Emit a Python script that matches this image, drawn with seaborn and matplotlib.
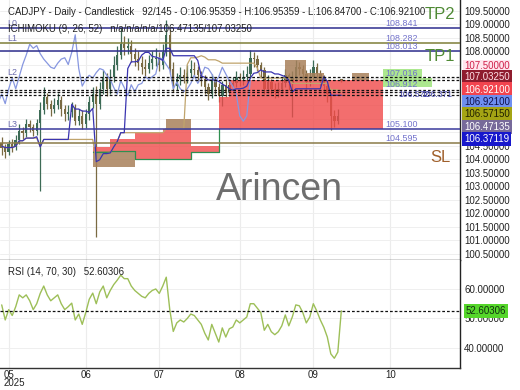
import numpy as np
import pandas as pd
import matplotlib
matplotlib.use("Agg")
import matplotlib.pyplot as plt
import matplotlib.transforms as mtransforms
import seaborn as sns

# ---------------- data ----------------
header_text = "CADJPY - Daily - Candlestick   92/145 - O:106.95359 - H:106.95359 - L:106.84700 - C:106.92100"
ichimoku_text = "ICHIMOKU (9, 26, 52)   n/a/n/a/n/a/106.47135/107.03250"
rsi_text = "RSI (14, 70, 30)   52.60306"
start_date = "2025-04-29"
month_labels = ["05", "06", "07", "08", "09", "10"]
year_label = "2025"

opens = [104.60, 104.40, 104.25, 104.55, 104.45, 104.70, 105.05, 104.95, 105.30, 105.20,
         105.05, 105.35, 105.80, 106.30, 106.05, 105.85, 106.00, 106.20, 105.85, 105.65,
         105.75, 105.90, 105.40, 105.60, 105.30, 105.65, 106.10, 106.40, 106.05, 106.60,
         107.00, 106.60, 107.05, 107.50, 107.85, 108.25, 108.10, 108.20, 107.90, 107.70,
         107.55, 107.40, 107.35, 107.55, 107.70, 107.75, 107.50, 107.95, 108.60, 107.35,
         106.70, 106.95, 107.10, 107.00, 107.20, 107.35, 107.30, 107.10, 106.95, 106.65,
         106.40, 106.90, 106.65, 106.35, 106.75, 106.50, 106.75, 106.80, 107.05, 106.95,
         107.05, 107.15, 107.75, 107.70, 107.50, 107.30, 106.60, 106.85, 106.60, 106.50,
         106.60, 106.80, 107.10, 106.80, 107.05, 107.40, 107.35, 107.15, 106.85, 107.05,
         107.40, 107.15, 106.90, 106.70, 106.40, 105.60, 105.40, 106.95]
closes = [104.40, 104.25, 104.55, 104.45, 104.70, 105.05, 104.95, 105.30, 105.20, 105.05,
          105.35, 105.80, 106.30, 106.05, 105.85, 106.00, 106.20, 105.85, 105.65, 105.75,
          105.90, 105.40, 105.60, 105.30, 105.65, 106.10, 106.40, 106.05, 106.60, 107.00,
          106.60, 107.05, 107.50, 107.85, 108.25, 108.10, 108.20, 107.90, 107.70, 107.55,
          107.40, 107.35, 107.55, 107.70, 107.75, 107.50, 107.95, 108.60, 107.35, 106.70,
          106.95, 107.10, 107.00, 107.20, 107.35, 107.30, 107.10, 106.95, 106.65, 106.40,
          106.90, 106.65, 106.35, 106.75, 106.50, 106.75, 106.80, 107.05, 106.95, 107.05,
          107.15, 107.75, 107.70, 107.50, 107.30, 106.60, 106.85, 106.60, 106.50, 106.60,
          106.80, 107.10, 106.80, 107.05, 107.40, 107.35, 107.15, 106.85, 107.05, 107.40,
          107.15, 106.90, 106.70, 106.40, 105.60, 105.40, 105.60, 106.92]
highs = [104.80, 104.55, 104.70, 104.75, 104.90, 105.30, 105.20, 105.50, 105.45, 105.30,
         105.50, 106.10, 106.65, 106.45, 106.20, 106.25, 106.45, 106.35, 106.00, 106.00,
         106.10, 106.05, 105.85, 105.80, 105.85, 106.35, 106.65, 106.70, 106.85, 107.30,
         107.20, 107.35, 107.80, 108.20, 108.85, 108.55, 108.50, 108.40, 108.10, 108.00,
         107.80, 107.70, 107.85, 108.00, 108.10, 107.95, 108.25, 109.15, 108.80, 107.60,
         107.20, 107.40, 107.35, 107.50, 107.65, 107.60, 107.45, 107.25, 107.10, 106.80,
         107.15, 107.05, 106.80, 106.90, 106.95, 106.95, 107.05, 107.25, 107.20, 107.30,
         107.45, 108.05, 107.95, 107.85, 107.60, 107.40, 107.10, 106.95, 106.80, 106.85,
         107.05, 107.35, 107.20, 107.25, 107.65, 107.60, 107.50, 107.30, 107.35, 107.65,
         107.55, 107.30, 107.10, 106.85, 106.50, 105.80, 105.85, 106.95]
lows = [104.15, 104.05, 104.15, 104.25, 104.35, 104.55, 104.75, 104.80, 105.00, 104.85,
        104.90, 102.80, 105.65, 105.85, 105.60, 105.70, 105.85, 105.60, 105.40, 105.45,
        105.55, 105.25, 105.25, 105.10, 105.15, 105.45, 105.90, 101.10, 105.85, 106.40,
        106.35, 106.40, 106.85, 107.30, 107.70, 107.85, 107.90, 107.60, 107.45, 107.30,
        107.15, 107.05, 107.20, 107.35, 107.45, 107.25, 107.35, 107.80, 107.15, 106.50,
        106.55, 106.75, 106.80, 106.80, 107.05, 107.05, 106.85, 106.70, 106.40, 106.20,
        106.25, 106.40, 106.10, 105.95, 106.30, 106.35, 106.55, 106.65, 106.70, 106.75,
        106.85, 107.00, 107.40, 107.25, 107.05, 106.40, 106.45, 106.40, 106.25, 106.30,
        106.45, 106.65, 106.55, 105.55, 106.90, 107.10, 106.95, 106.60, 106.70, 106.90,
        106.95, 106.70, 106.45, 106.10, 105.07, 105.20, 105.30, 106.85]
rsi_values = [54.6, 49.5, 53.0, 51.0, 54.0, 58.0, 57.0, 58.0, 56.0, 53.0,
              55.0, 58.5, 61.0, 58.0, 56.0, 57.0, 58.0, 55.0, 53.0, 54.0,
              55.2, 49.5, 51.5, 48.0, 52.0, 56.5, 58.6, 55.0, 59.0, 61.0,
              57.0, 59.5, 61.5, 63.0, 64.7, 63.5, 63.5, 61.0, 59.5, 58.5,
              57.5, 57.0, 58.5, 59.5, 60.0, 58.5, 61.0, 64.0, 53.0, 45.6,
              48.5, 49.5, 48.8, 50.0, 51.5, 51.0, 49.5, 48.0, 45.0, 42.7,
              48.0, 45.0, 42.0, 46.8, 43.7, 46.5, 47.1, 49.5, 48.5, 49.5,
              50.5, 55.0, 55.0, 53.5, 52.0, 46.0, 48.0, 45.5, 44.5, 45.5,
              47.5, 51.2, 47.5, 50.5, 54.6, 54.3, 52.0, 48.5, 50.5, 55.0,
              52.5, 49.5, 47.0, 43.7, 38.0, 36.5, 38.6, 52.6]

# Ichimoku cloud (bar index, lower, upper)
red_idx = [26, 31, 38, 46, 54, 62, 65, 109]
red_lo = [104.25, 104.30, 104.00, 104.00, 104.25, 105.10, 105.10, 105.10]
red_hi = [104.45, 104.75, 104.95, 105.10, 104.50, 106.30, 106.93, 106.93]
brown_start = [26, 47, 81, 87, 100]
brown_end = [38, 54, 87, 92, 105]
brown_lo = [103.70, 105.07, 106.93, 106.93, 106.93]
brown_hi = [104.30, 105.50, 107.65, 107.20, 107.20]
green_idx = [109, 120, 123]
green_lo = [106.65, 106.65, 106.65]
green_hi = [107.35, 107.00, 107.00]

level_values = [108.841, 108.282, 108.013, 105.100, 104.595]
level_texts = ["108.841", "108.282", "108.013", "105.100", "104.595"]
cloud_values = [107.016, 106.912]
cloud_texts = ["107.016", "106.912"]
small_values = [106.5715, 106.37119]
small_texts = ["106.572", "106.371"]
side_tags = ["L0", "L1", "L2", "L3"]
side_tag_values = [108.841, 108.282, 107.0325, 105.100]
target_tags = ["TP2", "TP1", "SL"]
target_values = [109.37, 107.78, 104.07]
dashed_levels = [107.03250, 106.92100, 106.57150, 106.47135, 106.37119]
badge_texts = ["107.03250", "106.92100", "106.92100", "106.57150", "106.47135", "106.37119"]
rsi_last = 52.60306
rsi_last_text = "52.60306"
watermark = "Arincen"

# ---------------- styles ----------------
badge_bg = ["#8e1c2e", "#f2444f", "#6f8ff0", "#a4a414", "#776a9a", "#1717cc"]
badge_fg = ["#ffe0e6", "#ffffff", "#10104a", "#202000", "#ffffff", "#ffffff"]
level_colors = ["#2e2e8e", "#7f7f38", "#2e2e8e", "#3a3a9c", "#8a7a48"]
target_colors = ["#4f8a35", "#4f8a35", "#a0602c"]

sns.set_theme(style="white")
plt.rcParams["font.family"] = ["Liberation Sans", "DejaVu Sans"]

W, H = 520, 390
fig = plt.figure(figsize=(5.2, 3.9), dpi=100)
ax1 = fig.add_axes([0, 1 - 260 / H, 460 / W, 260 / H])
ax2 = fig.add_axes([0, 1 - 368 / H, 460 / W, 108 / H])

n = len(closes)
df = pd.DataFrame({"open": opens, "high": highs, "low": lows, "close": closes,
                   "rsi": rsi_values})
df["idx"] = np.arange(n)

# Ichimoku lines (9, 26)
tenkan = (df["high"].rolling(9, min_periods=1).max() + df["low"].rolling(9, min_periods=1).min()) / 2
kijun = (df["high"].rolling(26, min_periods=1).max() + df["low"].rolling(26, min_periods=1).min()) / 2
shift = 26

# x ticks (first trading day of each month)
dates = pd.bdate_range(start_date, periods=n + 60)
month_pos = [i for i in range(1, len(dates)) if dates[i].month != dates[i - 1].month][:len(month_labels)]

for ax in (ax1, ax2):
    ax.set_xticks(month_pos)
    ax.grid(True, axis="x", color="#ececec", lw=0.8, zorder=0)
    ax.grid(True, axis="y", color="#efefef", lw=0.7, zorder=0)
    for s in ("left", "top"):
        ax.spines[s].set_visible(False)
    ax.spines["right"].set_color("#222222")
    ax.spines["bottom"].set_color("#333333")
    ax.spines["right"].set_linewidth(1)
    ax.spines["bottom"].set_linewidth(1)
    ax.yaxis.tick_right()
    ax.tick_params(axis="y", length=0, pad=3, labelsize=7, labelcolor="#222222")
    ax.tick_params(axis="x", length=0, pad=1.5, labelsize=7, labelcolor="#222222")
    ax.set_facecolor("white")

# ---- price panel ----
pticks = np.arange(100.0, 110.01, 0.5)
ax1.set_yticks(pticks)
ax1.set_yticklabels([f"{t:.5f}" for t in pticks])
for lab, t in zip(ax1.get_yticklabels(), pticks):
    if abs(t - 107.5) < 1e-6:
        lab.set_color("#d0204a")
        lab.set_bbox(dict(facecolor="#ffe6ee", edgecolor="none", pad=0.5))
ax1.set_xticklabels([])

# candles
up = df["close"] >= df["open"]
cols = np.where(up, "#3d6b56", "#7a6a42")
ax1.vlines(df["idx"], df["low"], df["high"], colors=cols, lw=0.9, zorder=2)
body_lo = np.minimum(df["open"], df["close"])
body_h = np.maximum(np.abs(df["close"] - df["open"]), 0.04)
ax1.bar(df["idx"], body_h, bottom=body_lo, width=0.7, color=cols, edgecolor="none", zorder=2)

# cloud
ax1.fill_between(red_idx, red_lo, red_hi, step="post", color="#f04a4a", alpha=0.8, lw=0, zorder=3)
for s, e, lo, hi in zip(brown_start, brown_end, brown_lo, brown_hi):
    ax1.fill_between([s, e], [lo, lo], [hi, hi], color="#a8805a", alpha=0.85, lw=0, zorder=3)
ax1.fill_between(green_idx, green_lo, green_hi, step="post", color="#9ee47c", alpha=0.85, lw=0, zorder=3)
ax1.step(red_idx[:6], red_lo[:6], where="post", color="#2f8f50", lw=0.9, zorder=4)

# ichimoku lines
sns.lineplot(x=df["idx"] - shift, y=df["close"], ax=ax1, color="#8797e0", lw=0.9, zorder=4)
sns.lineplot(x=df["idx"], y=kijun, ax=ax1, color="#c0a46c", lw=0.9, zorder=4)
sns.lineplot(x=df["idx"], y=tenkan, ax=ax1, color="#3a34b0", lw=0.9, zorder=4)

# levels
for v, c in zip(level_values, level_colors):
    ax1.axhline(v, color=c, lw=1.1, zorder=5)
for v in dashed_levels:
    ax1.axhline(v, color="#111111", lw=0.9, ls=(0, (2.2, 1.6)), zorder=5)

ytr = ax1.get_yaxis_transform()
lab_x = 385 / 460
for v, t in zip(level_values, level_texts):
    ax1.text(lab_x, v, t, transform=ytr, fontsize=6.4, color="#7373cc", va="bottom", ha="left", zorder=6)
ax1.text(lab_x, cloud_values[0], cloud_texts[0], transform=ytr, fontsize=6.4, color="#7373cc",
         va="bottom", ha="left", zorder=6)
ax1.text(lab_x, cloud_values[1], cloud_texts[1], transform=ytr, fontsize=6.4, color="#7373cc",
         va="top", ha="left", zorder=6)
ax1.text(398 / 460, small_values[0], small_texts[0], transform=ytr, fontsize=6.2, color="#4a4ab0",
         va="top", ha="left", zorder=6)
ax1.text(421 / 460, small_values[1], small_texts[1], transform=ytr, fontsize=6.2, color="#4a4ab0",
         va="center", ha="left", zorder=6)

for t, v in zip(side_tags, side_tag_values):
    ax1.text(7 / 460, v, t, transform=ytr, fontsize=6.4, color="#6c6cae", va="bottom", ha="left", zorder=6)
for t, v, c in zip(target_tags, target_values, target_colors):
    ax1.text(440 / 460, v, t, transform=ytr, fontsize=12, color=c, va="center", ha="center", zorder=6)

ax1.text(279 / 460, 1 - 190 / 260, watermark, transform=ax1.transAxes, fontsize=27,
         color="#555555", alpha=0.85, ha="center", va="center", zorder=7)

# ---- RSI panel ----
rticks = [40, 50, 60]
ax2.set_yticks(rticks)
ax2.set_yticklabels([f"{t:.5f}" for t in rticks])
ax2.set_xticklabels(month_labels)
sns.lineplot(x=df["idx"], y=df["rsi"], ax=ax2, color="#9dbf58", lw=1.0, zorder=4)
ax2.axhline(rsi_last, color="#111111", lw=0.9, ls=(0, (2.2, 1.6)), zorder=5)
for ax in (ax1, ax2):
    ax.set_xlabel("")
    ax.set_ylabel("")

# limits last (ticks outside the view must not widen it)
ax1.set_xlim(-0.49, 130.9)
ax2.set_xlim(-0.49, 130.9)
ax1.set_ylim(100.26, 109.889)
ax2.set_ylim(33.2, 69.83)

# year under the first month label
fig.text(4 / W, 1 - 383 / H, year_label, fontsize=7, color="#222222", va="center", ha="left")

# badges on the price axis
btrans = mtransforms.blended_transform_factory(fig.transFigure, ax1.transData)
for k, (t, bg, fg) in enumerate(zip(badge_texts, badge_bg, badge_fg)):
    tr = mtransforms.offset_copy(btrans, fig=fig, x=0, y=-12.4 * k, units="dots")
    fig.text(464 / W, dashed_levels[0], t, transform=tr, fontsize=7, color=fg,
             va="center", ha="left", zorder=8,
             bbox=dict(boxstyle="square,pad=0.22", facecolor=bg, edgecolor="none"))
ax2.text(466 / 460, rsi_last, rsi_last_text, transform=ax2.get_yaxis_transform(),
         fontsize=7, color="#103010", va="center", ha="left", clip_on=False,
         bbox=dict(boxstyle="square,pad=0.2", facecolor="#55d62a", edgecolor="none"))

# headers
fig.text(8 / W, 1 - 12 / H, header_text, fontsize=6.9, color="#222222", va="center", ha="left")
fig.text(8 / W, 1 - 29 / H, ichimoku_text, fontsize=6.9, color="#222222", va="center", ha="left")
fig.text(8 / W, 1 - 272 / H, rsi_text, fontsize=6.9, color="#222222", va="center", ha="left")

fig.savefig("out.png", dpi=100)
